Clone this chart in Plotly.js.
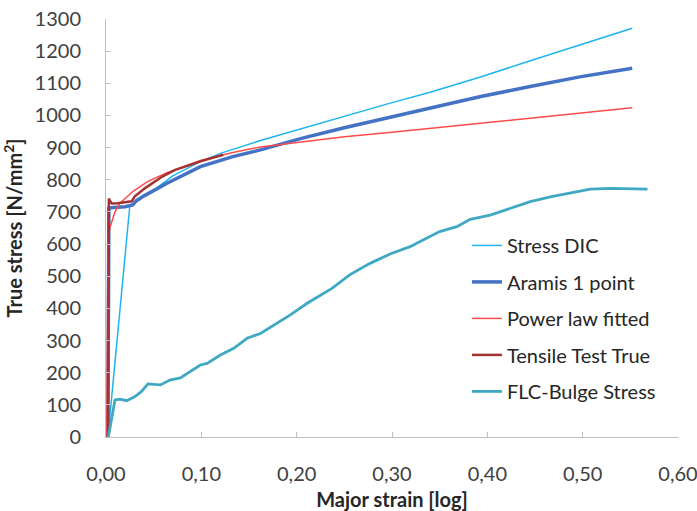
<!DOCTYPE html>
<html>
<head>
<meta charset="utf-8">
<script src="https://cdn.plot.ly/plotly-3.0.1.min.js"></script>
<style>html,body{margin:0;padding:0;background:#fff;}#chart{width:697px;height:511px;}</style>
</head>
<body>
<div id="chart"></div>
<script>
// Stress DIC
var dicX = [0.002, 0.025, 0.03, 0.04, 0.05, 0.07, 0.1, 0.12, 0.162, 0.204, 0.25, 0.3, 0.34, 0.392, 0.445, 0.497, 0.552];
var dicY = [0, 720, 728, 750, 768, 812, 858, 882, 922, 958, 997, 1040, 1072, 1119, 1170, 1219, 1271];
// Aramis 1 point
var aramisX = [0.002, 0.003, 0.008, 0.02, 0.028, 0.032, 0.04, 0.064, 0.099, 0.133, 0.162, 0.204, 0.25, 0.3, 0.34, 0.392, 0.445, 0.497, 0.552];
var aramisY = [0, 712, 714, 716, 722, 735, 750, 789, 841, 872, 893, 928, 962, 996, 1024, 1058, 1090, 1120, 1147];
// Power law fitted
var powerX = [0.001, 0.002, 0.004, 0.0094, 0.0147, 0.0287, 0.044, 0.064, 0.099, 0.133, 0.162, 0.204, 0.25, 0.3, 0.34, 0.392, 0.445, 0.497, 0.552];
var powerY = [0, 600, 650, 700, 727, 765, 795, 822, 860, 885, 902, 918, 934, 948, 960, 975, 991, 1007, 1024];
// Tensile Test True
var tensileX = [0.002, 0.0025, 0.003, 0.004, 0.006, 0.012, 0.02, 0.027, 0.03, 0.041, 0.058, 0.072, 0.1, 0.123];
var tensileY = [0, 500, 742, 735, 726, 727, 729, 733, 748, 774, 808, 830, 858, 878];
// FLC-Bulge Stress
var flcX = [0.0025, 0.0094, 0.0147, 0.0217, 0.030, 0.037, 0.044, 0.057, 0.067, 0.078, 0.088, 0.099, 0.106, 0.12, 0.134, 0.148, 0.162, 0.176, 0.193, 0.211, 0.225, 0.237, 0.256, 0.277, 0.298, 0.319, 0.329, 0.350, 0.368, 0.382, 0.403, 0.424, 0.445, 0.466, 0.487, 0.508, 0.529, 0.55, 0.568];
var flcY = [0, 115, 118, 113, 125, 141, 165, 162, 177, 184, 203, 224, 229, 255, 276, 307, 322, 348, 379, 416, 442, 462, 505, 540, 569, 592, 607, 639, 654, 677, 690, 711, 732, 747, 760, 771, 773, 773, 771];

var xTickVals = [0, 0.1, 0.2, 0.3, 0.4, 0.5, 0.6];
var xTickText = ["0,00", "0,10", "0,20", "0,30", "0,40", "0,50", "0,60"];
var yTickVals = [0, 100, 200, 300, 400, 500, 600, 700, 800, 900, 1000, 1100, 1200, 1300];
var yTickText = ["0", "100", "200", "300", "400", "500", "600", "700", "800", "900", "1000", "1100", "1200", "1300"];

var font = "Lato, 'Open Sans', sans-serif";

var traces = [
  {x: dicX, y: dicY, name: "Stress DIC", legendgroup: "a", mode: "lines", line: {color: "#1EB4F0", width: 1.5}},
  {x: aramisX, y: aramisY, name: "Aramis 1 point", legendgroup: "b", mode: "lines", line: {color: "#4472C4", width: 3.5}},
  {x: powerX, y: powerY, name: "Power law fitted", legendgroup: "c", mode: "lines", line: {color: "#FF4A4A", width: 1.5}},
  {x: tensileX, y: tensileY, name: "Tensile Test True", legendgroup: "d", mode: "lines", line: {color: "#A33232", width: 2.5}},
  {x: flcX, y: flcY, name: "FLC-Bulge Stress", legendgroup: "e", mode: "lines", line: {color: "#3FA9C4", width: 2.8}}
];

var layout = {
  width: 697, height: 511,
  margin: {l: 106, r: 19, t: 19, b: 74},
  paper_bgcolor: "#fff", plot_bgcolor: "#fff",
  font: {family: font, size: 20, color: "#404040"},
  showlegend: true,
  legend: {x: 0.631, xanchor: "left", y: 0.505, yanchor: "top", bgcolor: "rgba(0,0,0,0)",
           traceorder: "grouped", tracegroupgap: 7.5, font: {family: font, size: 20, color: "#262626"}},
  xaxis: {range: [0, 0.6], tickvals: xTickVals, ticktext: xTickText, showgrid: false, zeroline: false,
          showline: true, linecolor: "#BFBFBF", linewidth: 1, ticks: "inside", ticklen: 5, tickcolor: "#BFBFBF",
          ticklabelstandoff: 19, ticklabeloverflow: "allow", tickfont: {family: font, size: 20, color: "#404040"},
          title: {text: "Major strain [log]", font: {family: font, size: 20, color: "#262626", weight: "bold"}, standoff: 8}},
  yaxis: {range: [0, 1300], tickvals: yTickVals, ticktext: yTickText, showgrid: false, zeroline: false,
          showline: true, linecolor: "#BFBFBF", linewidth: 1, ticks: "inside", ticklen: 5, tickcolor: "#BFBFBF",
          ticklabelstandoff: 20, ticklabeloverflow: "allow", tickfont: {family: font, size: 20, color: "#404040"},
          title: {text: "True stress [N/mm<sup>2</sup>]", font: {family: font, size: 20, color: "#262626", weight: "bold"}, standoff: 8}}
};

Plotly.newPlot("chart", traces, layout, {displayModeBar: false, staticPlot: true});
</script>
</body>
</html>
